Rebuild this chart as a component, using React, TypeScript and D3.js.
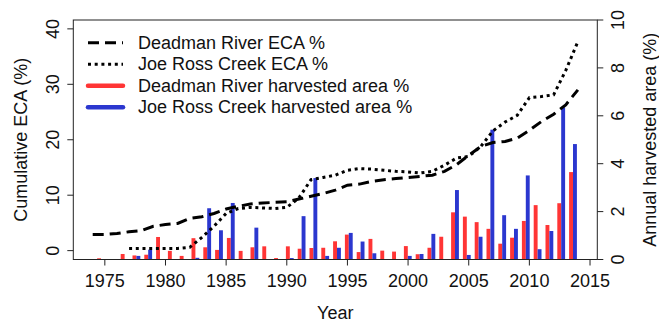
import React from "react";
import * as d3 from "d3";

const years: number[] = d3.range(1974, 2015);

// Cumulative equivalent clearcut area (%), left axis
const deadmanECA: (number | null)[] = [
  2.9, 2.9, 3.1, 3.4, 3.6, 4.4, 4.7, 4.9, 5.8, 6.1,
  6.7, 7.5, 8.0, 8.4, 8.6, 8.7, 8.8, 9.3, 9.8, 10.3,
  10.9, 11.8, 12.0, 12.5, 12.8, 13.0, 13.2, 13.4, 13.6, 14.3,
  15.5, 17.2, 18.8, 19.5, 19.7, 20.3, 21.7, 23.3, 24.6, 26.3,
  29.0,
];
const joeRossECA: (number | null)[] = [
  null, null, null, 0.4, 0.4, 0.4, 0.4, 0.4, 0.6, 2.4,
  4.4, 6.7, 7.6, 7.8, 7.7, 7.6, 7.8, 9.5, 12.8, 13.2,
  13.6, 14.5, 14.8, 14.7, 14.5, 14.3, 14.2, 14.0, 14.3, 15.4,
  16.7, 17.0, 18.8, 21.6, 23.2, 24.4, 27.6, 27.8, 28.1, 32.5,
  37.7,
];

// Annual harvested area (%), right axis
const deadmanHarvest: number[] = [
  0.05, 0, 0.23, 0.17, 0.2, 0.94, 0.36, 0.15, 0.89, 0.51,
  0.4, 0.9, 0.36, 0.51, 0.55, 0.06, 0.55, 0.45, 0.48, 0.49,
  0.76, 1.04, 0.31, 0.86, 0.37, 0.33, 0.56, 0.22, 0.49, 0.95,
  1.97, 1.79, 1.56, 1.28, 0.66, 0.91, 1.61, 2.27, 1.44, 2.35,
  3.65,
];
const joeRossHarvest: number[] = [
  0, 0, 0, 0.15, 0.41, 0, 0, 0, 0.07, 2.14,
  1.22, 2.36, 0, 1.33, 0, 0, 0.06, 1.81, 3.4, 0.15,
  0.49, 1.11, 0.75, 0.26, 0, 0, 0.15, 0.23, 1.07, 0,
  2.9, 0.19, 0.95, 5.42, 1.85, 1.28, 3.51, 0.43, 1.19, 6.35,
  4.82,
];

const xTicks: number[] = [1975, 1980, 1985, 1990, 1995, 2000, 2005, 2010, 2015];
const leftTicks: number[] = [0, 10, 20, 30, 40];
const rightTicks: number[] = [0, 2, 4, 6, 8, 10];

const legendItems = [
  { label: "Deadman River ECA %", kind: "dashed" },
  { label: "Joe Ross Creek ECA %", kind: "dotted" },
  { label: "Deadman River harvested area %", kind: "red" },
  { label: "Joe Ross Creek harvested area %", kind: "blue" },
];

const W = 659;
const H = 322;
const box = { left: 73.3, right: 597.3, top: 20, bottom: 259.5 };
const FONT = "'Liberation Sans', Arial, Helvetica, sans-serif";
const FS = 18;
const RED = "#ff3535";
const BLUE = "#2b37cf";
const INK = "#111";
const DASHED = "11,6";
const DOTTED = "3,3.7";

export default function App() {
  const x = d3.scaleLinear().domain([1972.4, 2015.6]).range([box.left, box.right]);
  const yL = d3.scaleLinear().domain([-1.6, 41.6]).range([box.bottom, box.top]);
  const yR = d3.scaleLinear().domain([0, 10]).range([box.bottom, box.top]);
  // bar groups are laid out on their own grid, one pair per year
  const xb = d3.scaleLinear().domain([1974, 2014]).range([101, 573]);
  const bw = 3.9;

  const line = d3
    .line<number | null>()
    .defined((d) => d !== null)
    .x((_, i) => x(years[i]))
    .y((d) => yL(d as number));

  const tick = 6;

  return (
    <svg
      width={W}
      height={H}
      style={{ position: "absolute", left: 0, top: 0, background: "#fff" }}
      fontFamily={FONT}
    >
      {/* harvest bars */}
      {years.map((yr, i) => (
        <g key={yr}>
          {deadmanHarvest[i] > 0 && (
            <rect
              x={xb(yr) - bw}
              y={yR(deadmanHarvest[i])}
              width={bw}
              height={yR(0) - yR(deadmanHarvest[i])}
              fill={RED}
            />
          )}
          {joeRossHarvest[i] > 0 && (
            <rect
              x={xb(yr)}
              y={yR(joeRossHarvest[i])}
              width={bw}
              height={yR(0) - yR(joeRossHarvest[i])}
              fill={BLUE}
            />
          )}
        </g>
      ))}

      {/* ECA lines */}
      <path d={line(deadmanECA) || ""} fill="none" stroke="#000" strokeWidth={3} strokeDasharray={DASHED} />
      <path d={line(joeRossECA) || ""} fill="none" stroke="#000" strokeWidth={3} strokeDasharray={DOTTED} />

      {/* frame */}
      <rect
        x={box.left}
        y={box.top}
        width={box.right - box.left}
        height={box.bottom - box.top}
        fill="none"
        stroke="#222"
        strokeWidth={1}
      />

      {/* bottom axis */}
      {xTicks.map((t) => (
        <g key={t}>
          <line x1={x(t)} x2={x(t)} y1={box.bottom} y2={box.bottom + tick} stroke="#222" />
          <text x={x(t)} y={287} textAnchor="middle" fontSize={FS} fill={INK}>
            {t}
          </text>
        </g>
      ))}
      <text x={(box.left + box.right) / 2} y={319} textAnchor="middle" fontSize={FS} fill={INK}>
        Year
      </text>

      {/* left axis */}
      {leftTicks.map((t) => (
        <g key={t}>
          <line x1={box.left - tick} x2={box.left} y1={yL(t)} y2={yL(t)} stroke="#222" />
          <text
            transform={`translate(${53},${yL(t)}) rotate(-90)`}
            textAnchor="middle"
            dominantBaseline="central"
            fontSize={FS}
            fill={INK}
          >
            {t}
          </text>
        </g>
      ))}
      <text
        transform={`translate(${21},${(box.top + box.bottom) / 2}) rotate(-90)`}
        textAnchor="middle"
        dominantBaseline="central"
        fontSize={FS}
        fill={INK}
      >
        Cumulative ECA (%)
      </text>

      {/* right axis */}
      {rightTicks.map((t) => (
        <g key={t}>
          <line x1={box.right} x2={box.right + tick} y1={yR(t)} y2={yR(t)} stroke="#222" />
          <text
            transform={`translate(${618},${yR(t)}) rotate(-90)`}
            textAnchor="middle"
            dominantBaseline="central"
            fontSize={FS}
            fill={INK}
          >
            {t}
          </text>
        </g>
      ))}
      <text
        transform={`translate(${650},${(box.top + box.bottom) / 2}) rotate(-90)`}
        textAnchor="middle"
        dominantBaseline="central"
        fontSize={FS}
        fill={INK}
      >
        Annual harvested area (%)
      </text>

      {/* legend */}
      {legendItems.map((item, i) => {
        const ly = 42.7 + i * 21.55;
        let stroke = "#000";
        let sw = 3;
        let dash: string | undefined;
        if (item.kind === "dashed") dash = DASHED;
        if (item.kind === "dotted") dash = DOTTED;
        if (item.kind === "red") {
          stroke = RED;
          sw = 4.5;
        }
        if (item.kind === "blue") {
          stroke = BLUE;
          sw = 4.5;
        }
        return (
          <g key={item.label}>
            <line
              x1={88}
              x2={123}
              y1={ly}
              y2={ly}
              stroke={stroke}
              strokeWidth={sw}
              strokeDasharray={dash}
              strokeLinecap={item.kind === "red" || item.kind === "blue" ? "round" : "butt"}
            />
            <text x={138} y={ly} dominantBaseline="central" fontSize={FS} fill={INK}>
              {item.label}
            </text>
          </g>
        );
      })}
    </svg>
  );
}
